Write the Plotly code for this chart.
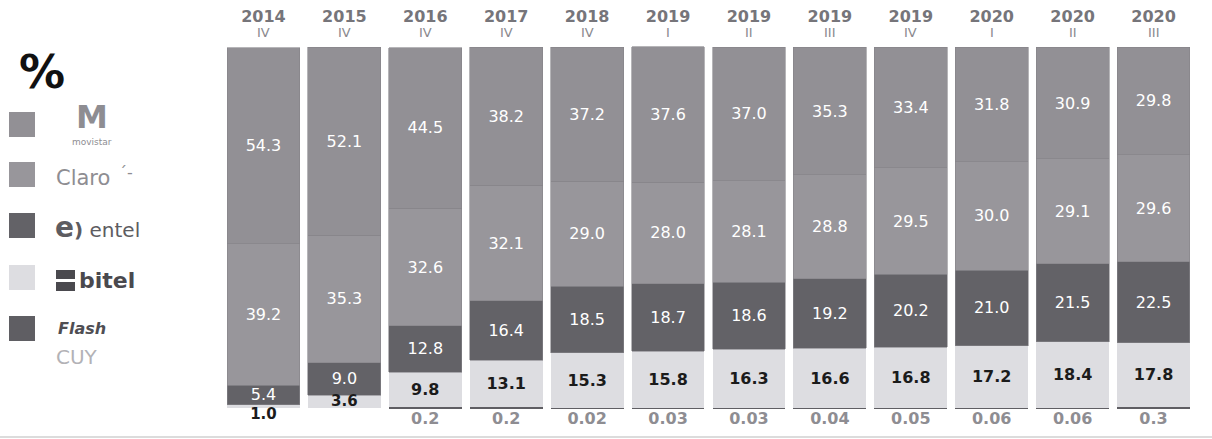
import plotly.graph_objects as go

# ---------------- data ----------------
years = ["2014", "2015", "2016", "2017", "2018", "2019", "2019", "2019", "2019", "2020", "2020", "2020"]
quarters = ["IV", "IV", "IV", "IV", "IV", "I", "II", "III", "IV", "I", "II", "III"]
movistar = [54.3, 52.1, 44.5, 38.2, 37.2, 37.6, 37.0, 35.3, 33.4, 31.8, 30.9, 29.8]
claro = [39.2, 35.3, 32.6, 32.1, 29.0, 28.0, 28.1, 28.8, 29.5, 30.0, 29.1, 29.6]
entel = [5.4, 9.0, 12.8, 16.4, 18.5, 18.7, 18.6, 19.2, 20.2, 21.0, 21.5, 22.5]
bitel = [1.0, 3.6, 9.8, 13.1, 15.3, 15.8, 16.3, 16.6, 16.8, 17.2, 18.4, 17.8]
others = [None, None, 0.2, 0.2, 0.02, 0.03, 0.03, 0.04, 0.05, 0.06, 0.06, 0.3]

# ---------------- styles ----------------
C_MOV = "#929095"
C_CLA = "#98969b"
C_ENT = "#636267"
C_BIT = "#dddde1"
C_OTH = "#5f5e63"
FONT = "DejaVu Sans"

x = list(range(len(years)))
oth_vals = [v if v is not None else 0 for v in others]

W, H = 1212, 439
ML, MR, MT, MB = 223, 18, 40, 2
PW, PH = W - ML - MR, H - MT - MB


def px(xp):
    return (xp - ML) / PW


def py(yp):
    return (H - MB - yp) / PH


fig = go.Figure()

line = dict(color="#858489", width=0.6)


def fmt(v):
    return f"{v:.1f}"


# others (bottom)
fig.add_trace(go.Bar(x=x, y=oth_vals, marker=dict(color=C_OTH, line=dict(width=0)),
                     name="Flash / CUY", hoverinfo="skip"))
# bitel
bit_text = [fmt(v) if v >= 5 else "" for v in bitel]
fig.add_trace(go.Bar(x=x, y=bitel, marker=dict(color=C_BIT, line=dict(width=0)),
                     text=bit_text, textposition="inside", insidetextanchor="middle",
                     textfont=dict(family=FONT, size=16, color="#1b1b1b", weight="bold"),
                     name="bitel", hoverinfo="skip"))
# entel
fig.add_trace(go.Bar(x=x, y=entel, marker=dict(color=C_ENT, line=line),
                     text=[fmt(v) for v in entel], textposition="inside", insidetextanchor="middle",
                     textfont=dict(family=FONT, size=16, color="white"),
                     name="entel", hoverinfo="skip"))
# claro
fig.add_trace(go.Bar(x=x, y=claro, marker=dict(color=C_CLA, line=line),
                     text=[fmt(v) for v in claro], textposition="inside", insidetextanchor="middle",
                     textfont=dict(family=FONT, size=16, color="white"),
                     name="Claro", hoverinfo="skip"))
# movistar
fig.add_trace(go.Bar(x=x, y=movistar, marker=dict(color=C_MOV, line=line),
                     text=[fmt(v) for v in movistar], textposition="inside", insidetextanchor="middle",
                     textfont=dict(family=FONT, size=16, color="white"),
                     name="movistar", hoverinfo="skip"))

# small bitel labels (hanging below the segment top / bar base)
small_x = [i for i, v in enumerate(bitel) if v < 5]
small_y = [oth_vals[i] + (bitel[i] if bitel[i] > 2 else 0) for i in small_x]
fig.add_trace(go.Scatter(x=small_x, y=small_y, mode="text",
                         text=[fmt(bitel[i]) for i in small_x], textposition="bottom center",
                         textfont=dict(family=FONT, size=15, color="#1b1b1b", weight="bold"),
                         hoverinfo="skip", showlegend=False))

# others labels below bars
ox = [i for i, v in enumerate(others) if v is not None]
fig.add_trace(go.Scatter(x=ox, y=[-3.2] * len(ox), mode="text",
                         text=[str(others[i]) for i in ox], textposition="middle center",
                         textfont=dict(family=FONT, size=16, color="#8e8d92", weight="bold"),
                         hoverinfo="skip", showlegend=False))

fig.update_layout(
    width=W, height=H,
    margin=dict(l=ML, r=MR, t=MT, b=MB),
    barmode="stack", bargap=0.1,
    showlegend=False,
    plot_bgcolor="white", paper_bgcolor="white",
    font=dict(family=FONT),
    uniformtext=dict(minsize=16, mode="show"),
    xaxis=dict(range=[-0.5, len(x) - 0.5], side="top", tickmode="array", tickvals=x,
               ticktext=[f"<b>{y}</b>" for y in years], ticklabelstandoff=14,
               showgrid=False, zeroline=False, showline=False, ticks="",
               tickfont=dict(family=FONT, size=16, color="#76757a")),
    yaxis=dict(range=[-8, 102], visible=False, showgrid=False, zeroline=False),
)

shapes = []
annotations = []

# quarter numerals under the years
for i, q in zip(x, quarters):
    annotations.append(dict(xref="x", yref="paper", x=i, y=py(33), text=q, showarrow=False,
                            font=dict(family=FONT, size=13, color="#8a898e"),
                            xanchor="center", yanchor="middle"))

# ---------------- legend (manual) ----------------
annotations.append(dict(xref="paper", yref="paper", x=px(42), y=py(72), text="<b>%</b>",
                        showarrow=False, font=dict(family=FONT, size=46, color="#111111"),
                        xanchor="center", yanchor="middle"))

sq = [(112, C_MOV), (162, C_CLA), (213, C_ENT), (265, C_BIT), (316, C_OTH)]
for top, col in sq:
    shapes.append(dict(type="rect", xref="paper", yref="paper",
                       x0=px(9), x1=px(35), y0=py(top + 25), y1=py(top),
                       fillcolor=col, line=dict(width=0)))

# movistar logo text
annotations.append(dict(xref="paper", yref="paper", x=px(92), y=py(117), text="<b>M</b>",
                        showarrow=False, font=dict(family=FONT, size=32, color="#8e8d92"),
                        xanchor="center", yanchor="middle"))
annotations.append(dict(xref="paper", yref="paper", x=px(92), y=py(142), text="movistar",
                        showarrow=False, font=dict(family=FONT, size=9, color="#8e8d92"),
                        xanchor="center", yanchor="middle"))
# Claro
annotations.append(dict(xref="paper", yref="paper", x=px(54), y=py(178), text="Claro",
                        showarrow=False, font=dict(family=FONT, size=21, color="#8e8d92"),
                        xanchor="left", yanchor="middle"))
annotations.append(dict(xref="paper", yref="paper", x=px(117), y=py(172), text="´-",
                        showarrow=False, font=dict(family=FONT, size=16, color="#8e8d92"),
                        xanchor="left", yanchor="middle"))
# entel
annotations.append(dict(xref="paper", yref="paper", x=px(53), y=py(228),
                        text="<b><span style='font-size:28px'>e</span>)</b> entel",
                        showarrow=False, font=dict(family=FONT, size=20, color="#5d5c61"),
                        xanchor="left", yanchor="middle"))
# bitel
shapes.append(dict(type="rect", xref="paper", yref="paper", x0=px(56), x1=px(75),
                   y0=py(279), y1=py(270), fillcolor="#4a494e", line=dict(width=0)))
shapes.append(dict(type="rect", xref="paper", yref="paper", x0=px(56), x1=px(75),
                   y0=py(291), y1=py(282), fillcolor="#4a494e", line=dict(width=0)))
annotations.append(dict(xref="paper", yref="paper", x=px(77), y=py(280), text="<b>bitel</b>",
                        showarrow=False, font=dict(family=FONT, size=22, color="#4a494e"),
                        xanchor="left", yanchor="middle"))
# Flash / CUY
annotations.append(dict(xref="paper", yref="paper", x=px(56), y=py(329), text="<b><i>Flash</i></b>",
                        showarrow=False, font=dict(family=FONT, size=16, color="#4f4e53"),
                        xanchor="left", yanchor="middle"))
annotations.append(dict(xref="paper", yref="paper", x=px(54), y=py(357), text="CUY",
                        showarrow=False, font=dict(family=FONT, size=20, color="#b3b2b6"),
                        xanchor="left", yanchor="middle"))

# bottom rule
shapes.append(dict(type="line", xref="paper", yref="paper", x0=px(0), x1=px(W), y0=py(437), y1=py(437),
                   line=dict(color="#dcdcdc", width=2)))

fig.update_layout(shapes=shapes, annotations=annotations)

fig.write_html("out.html", config={"displayModeBar": False},
               post_script="document.body.style.margin='0';")
